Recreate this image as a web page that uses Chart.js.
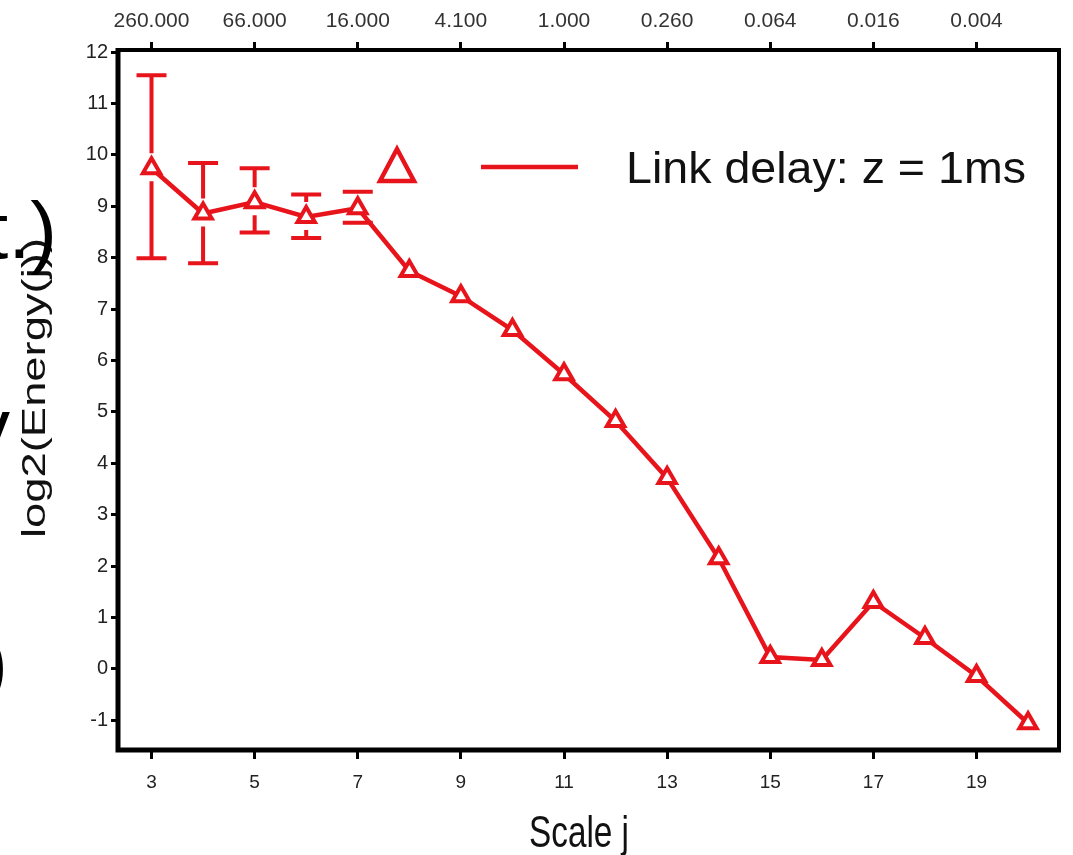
<!DOCTYPE html>
<html>
<head>
<meta charset="utf-8">
<script src="https://cdn.jsdelivr.net/npm/chart.js@4.4.1/dist/chart.umd.min.js"></script>
<style>
  html, body { margin: 0; padding: 0; background: #fff; }
  #wrap { width: 1073px; height: 855px; position: relative; }
</style>
</head>
<body>
<div id="wrap"><canvas id="energy-chart"></canvas></div>
<script>
// scale index j and log2 energy at each scale
const scales = [3, 4, 5, 6, 7, 8, 9, 10, 11, 12, 13, 14, 15, 16, 17, 18, 19, 20];
const energy = [9.74, 8.86, 9.08, 8.79, 8.96, 7.74, 7.25, 6.59, 5.73, 4.82, 3.71, 2.15, 0.23, 0.17, 1.30, 0.60, -0.14, -1.06];

// confidence intervals, only for the coarse scales
const errScales = [3, 4, 5, 6, 7];
const errLow = [7.99, 7.89, 8.49, 8.38, 8.68];
const errHigh = [11.55, 9.84, 9.74, 9.23, 9.28];

// axis ticks
const xTicks = [3, 5, 7, 9, 11, 13, 15, 17, 19];
const yTicks = [-1, 0, 1, 2, 3, 4, 5, 6, 7, 8, 9, 10, 11, 12];
const topLabels = ['260.000', '66.000', '16.000', '4.100', '1.000', '0.260', '0.064', '0.016', '0.004'];

const RED = '#e8141b';
const FONT = "'Liberation Sans', Arial, sans-serif";

// draw text stretched/squeezed along its direction to a given length
function fitText(ctx, text, x, y, size, len, rot) {
  ctx.save();
  ctx.font = size + 'px ' + FONT;
  const w = ctx.measureText(text).width;
  ctx.translate(x, y);
  if (rot) ctx.rotate(rot);
  ctx.scale(len / w, 1);
  ctx.textAlign = 'center';
  ctx.textBaseline = 'alphabetic';
  ctx.fillText(text, 0, 0);
  ctx.restore();
}

const errorBars = {
  id: 'errorBars',
  beforeDatasetsDraw(chart) {
    const { ctx, scales: { x, y } } = chart;
    ctx.save();
    ctx.strokeStyle = RED;
    ctx.lineWidth = 4;
    ctx.lineCap = 'butt';
    errScales.forEach((j, i) => {
      const px = x.getPixelForValue(j);
      const py = y.getPixelForValue(energy[scales.indexOf(j)]);
      const lo = y.getPixelForValue(errLow[i]);
      const hi = y.getPixelForValue(errHigh[i]);
      ctx.beginPath();
      // leave a small gap round the marker
      ctx.moveTo(px, hi); ctx.lineTo(px, Math.max(hi, py - 15));
      ctx.moveTo(px, Math.min(lo, py + 13)); ctx.lineTo(px, lo);
      ctx.moveTo(px - 15, lo); ctx.lineTo(px + 15, lo);
      ctx.moveTo(px - 15, hi); ctx.lineTo(px + 15, hi);
      ctx.stroke();
    });
    ctx.restore();
  }
};

const frame = {
  id: 'frame',
  afterDraw(chart) {
    const { ctx, chartArea: a } = chart;
    ctx.save();
    // plot box, heavier on the left and bottom
    ctx.strokeStyle = '#000';
    ctx.lineWidth = 4;
    ctx.strokeRect(a.left, a.top, a.right - a.left, a.bottom - a.top);
    ctx.lineWidth = 5;
    ctx.beginPath();
    ctx.moveTo(a.left, a.top - 2); ctx.lineTo(a.left, a.bottom);
    ctx.lineTo(a.right + 2, a.bottom);
    ctx.stroke();

    // legend
    ctx.strokeStyle = RED;
    ctx.lineWidth = 4.5;
    ctx.lineJoin = 'miter';
    ctx.beginPath();
    ctx.moveTo(397, 149); ctx.lineTo(414, 181); ctx.lineTo(380, 181); ctx.closePath();
    ctx.stroke();
    ctx.beginPath();
    ctx.moveTo(481, 167); ctx.lineTo(578, 167);
    ctx.stroke();
    ctx.fillStyle = '#111';
    fitText(ctx, 'Link delay: z = 1ms', 826, 183, 44, 400, 0);

    // axis titles
    fitText(ctx, 'Scale j', 579, 847, 45, 100, 0);
    fitText(ctx, 'log2(Energy(j))', 45, 388, 34, 300, -Math.PI / 2);

    // large lettering bleeding in from the left margin
    ctx.fillStyle = '#000';
    ctx.font = '80px ' + FONT;
    ctx.textAlign = 'right';
    ctx.fillText('(t.)', 57, 258);
    ctx.fillText('y', 10, 454);
    ctx.fillText(')', 8, 690);
    ctx.restore();
  }
};

const ctx = document.getElementById('energy-chart').getContext('2d');

new Chart(ctx, {
  type: 'line',
  data: {
    datasets: [{
      label: 'Link delay: z = 1ms',
      data: scales.map((j, i) => ({ x: j, y: energy[i] })),
      borderColor: RED,
      borderWidth: 4.5,
      pointStyle: 'triangle',
      pointRadius: 10,
      pointBorderWidth: 4,
      pointBackgroundColor: '#fff',
      pointBorderColor: RED,
      tension: 0
    }]
  },
  options: {
    responsive: true,
    maintainAspectRatio: false,
    animation: false,
    layout: { padding: { left: 0, right: 4, top: 0, bottom: 0 } },
    plugins: {
      legend: { display: false },
      tooltip: { enabled: false }
    },
    scales: {
      x: {
        type: 'linear',
        position: 'bottom',
        min: 2.35,
        max: 20.6,
        afterBuildTicks: s => { s.ticks = xTicks.map(v => ({ value: v })); },
        afterFit: s => { s.height = 105; },
        border: { display: false },
        grid: { drawOnChartArea: false, drawTicks: true, tickLength: 9, tickWidth: 3, color: '#000' },
        ticks: {
          padding: 12,
          color: '#222',
          font: { family: FONT, size: 19 },
          maxRotation: 0,
          callback: v => String(v)
        }
      },
      x2: {
        type: 'linear',
        position: 'top',
        min: 2.35,
        max: 20.6,
        afterBuildTicks: s => { s.ticks = xTicks.map(v => ({ value: v })); },
        afterFit: s => { s.height = 50; },
        border: { display: false },
        grid: { drawOnChartArea: false, drawTicks: true, tickLength: 8, tickWidth: 3, color: '#000' },
        ticks: {
          padding: 8,
          color: '#333',
          font: { family: FONT, size: 21 },
          maxRotation: 0,
          callback: v => topLabels[xTicks.indexOf(v)]
        }
      },
      y: {
        type: 'linear',
        position: 'left',
        min: -1.58,
        max: 12.04,
        afterBuildTicks: s => { s.ticks = yTicks.map(v => ({ value: v })); },
        afterFit: s => { s.width = 118; },
        border: { display: false },
        grid: { drawOnChartArea: false, drawTicks: true, tickLength: 7, tickWidth: 3, color: '#000' },
        ticks: {
          padding: 3,
          color: '#222',
          font: { family: FONT, size: 20 },
          callback: v => String(v)
        }
      }
    }
  },
  plugins: [errorBars, frame]
});
</script>
</body>
</html>
